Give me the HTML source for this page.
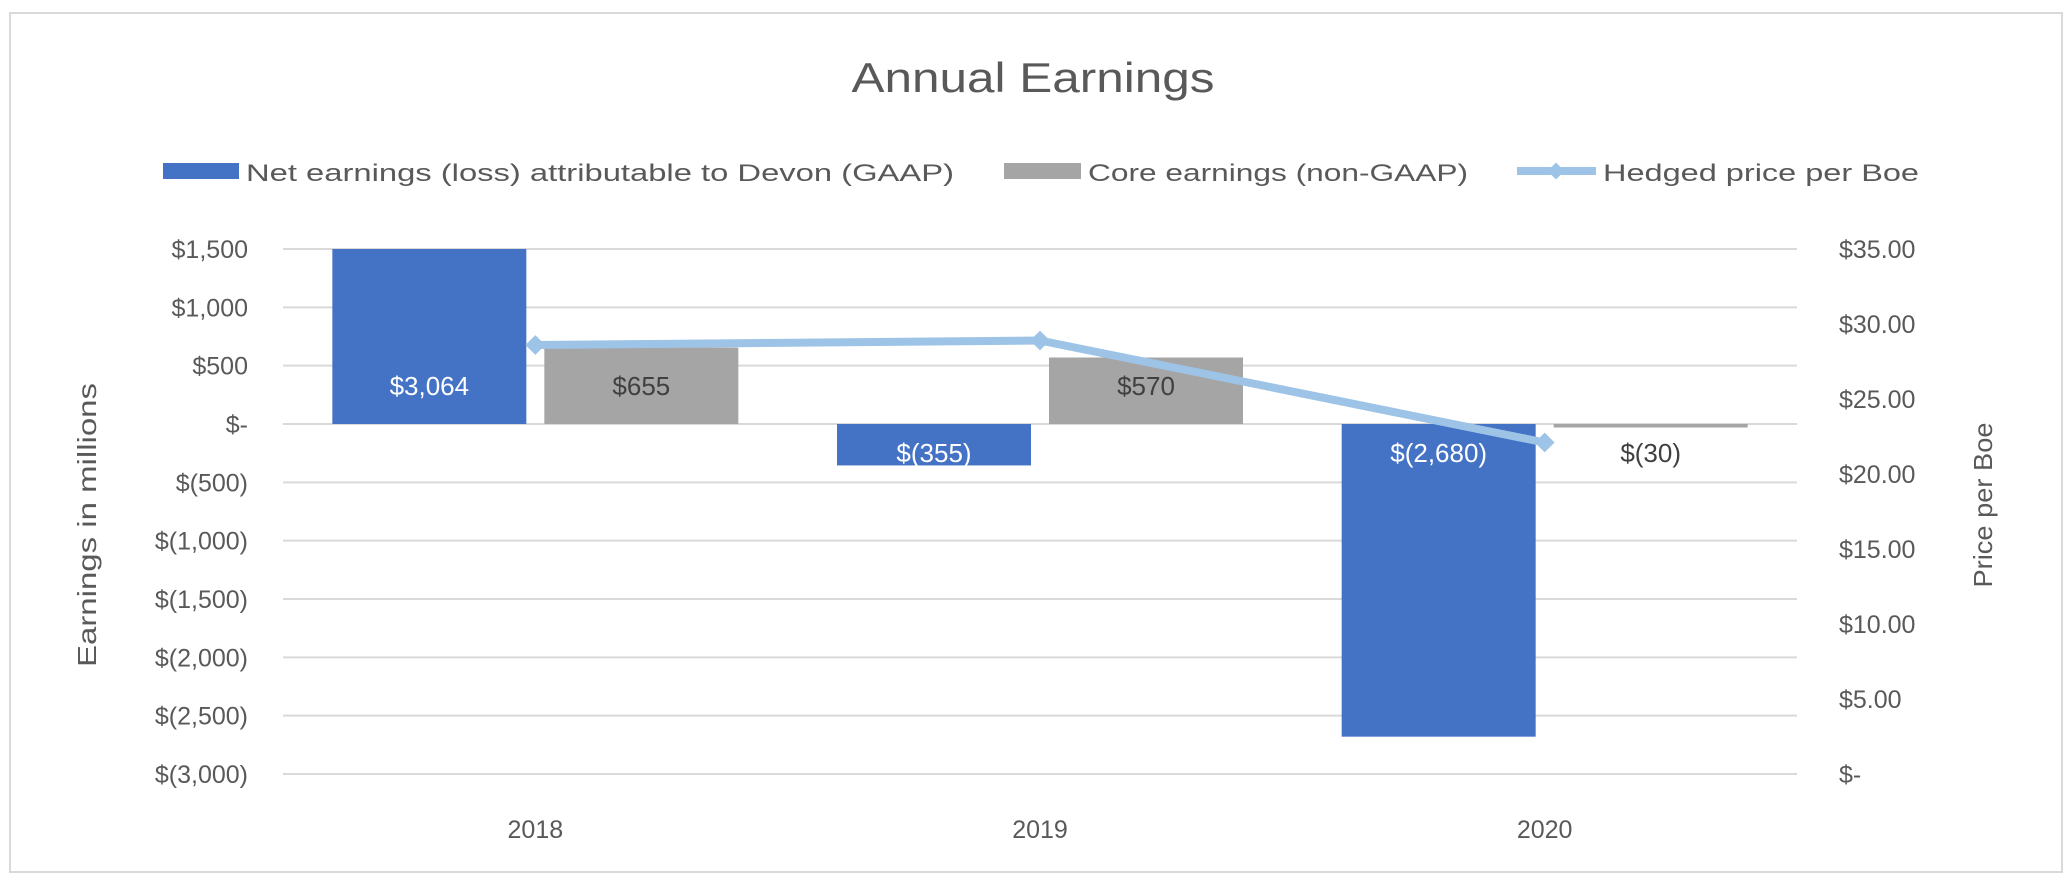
<!DOCTYPE html>
<html><head><meta charset="utf-8"><style>
html,body{margin:0;padding:0;background:#fff;}
svg{display:block;font-family:"Liberation Sans",sans-serif;}
</style></head><body>
<svg id="chart" width="2072" height="888" viewBox="0 0 2072 888">
<rect x="10" y="13" width="2052" height="859" fill="#fff" stroke="#d9d9d9" stroke-width="2"/>
<text x="1033" y="92" text-anchor="middle" font-size="42" fill="#595959" textLength="363" lengthAdjust="spacingAndGlyphs">Annual Earnings</text>
<g>
<g>
<rect x="163" y="163" width="76" height="16" fill="#4472c4"/>
<text x="246" y="181" font-size="24" fill="#595959" textLength="708" lengthAdjust="spacingAndGlyphs">Net earnings (loss) attributable to Devon (GAAP)</text>
</g>
<g>
<rect x="1004" y="163" width="77" height="16" fill="#a5a5a5"/>
<text x="1088" y="181" font-size="24" fill="#595959" textLength="380" lengthAdjust="spacingAndGlyphs">Core earnings (non-GAAP)</text>
</g>
<g>
<line x1="1517" y1="171" x2="1596" y2="171" stroke="#9dc3e6" stroke-width="8"/>
<rect x="1550" y="165" width="12" height="12" fill="#9dc3e6" transform="rotate(45 1556 171)"/>
<text x="1603" y="181" font-size="24" fill="#595959" textLength="316" lengthAdjust="spacingAndGlyphs">Hedged price per Boe</text>
</g>
</g>
<g id="grid"></g>
<g id="bars"></g>
<g id="line"></g>
<g id="labels"></g>
<g id="axes"></g>
<text transform="translate(96,525) rotate(-90)" text-anchor="middle" font-size="26" fill="#595959" textLength="284" lengthAdjust="spacingAndGlyphs">Earnings in millions</text>
<text transform="translate(1992,505) rotate(-90)" text-anchor="middle" font-size="26" fill="#595959" textLength="165" lengthAdjust="spacingAndGlyphs">Price per Boe</text>
</svg>
<script>
const categories = ["2018", "2019", "2020"];
const netEarnings = [3064, -355, -2680];
const coreEarnings = [655, 570, -30];
const hedgedPrice = [28.6, 28.9, 22.1];
const netLabels = ["$3,064", "$(355)", "$(2,680)"];
const coreLabels = ["$655", "$570", "$(30)"];
const leftTicks = [1500, 1000, 500, 0, -500, -1000, -1500, -2000, -2500, -3000];
const leftTickLabels = ["$1,500", "$1,000", "$500", "$-", "$(500)", "$(1,000)", "$(1,500)", "$(2,000)", "$(2,500)", "$(3,000)"];
const rightTicks = [35, 30, 25, 20, 15, 10, 5, 0];
const rightTickLabels = ["$35.00", "$30.00", "$25.00", "$20.00", "$15.00", "$10.00", "$5.00", "$-"];

const NS = "http://www.w3.org/2000/svg";
const X0 = 283, X1 = 1797, YT = 249, YB = 774;
const LMIN = -3000, LMAX = 1500, RMIN = 0, RMAX = 35;
function yL(v){ v = Math.max(LMIN, Math.min(LMAX, v)); return YB - (v - LMIN) / (LMAX - LMIN) * (YB - YT); }
function yR(v){ return YB - (v - RMIN) / (RMAX - RMIN) * (YB - YT); }
const bandW = (X1 - X0) / categories.length;
function xC(i){ return X0 + bandW * (i + 0.5); }
const barW = 194, gap = 18;
function mk(tag, attrs, parent){ const e = document.createElementNS(NS, tag); for (const k in attrs) e.setAttribute(k, attrs[k]); parent.appendChild(e); return e; }

const grid = document.getElementById('grid');
const axes = document.getElementById('axes');
leftTicks.forEach((t, i) => {
  const g = mk('line', {x1: X0, x2: X1, y1: yL(t), y2: yL(t), stroke: '#d9d9d9', 'stroke-width': 2}, grid);
  
  
  const tx = mk('text', {x: 248, y: yL(t) + 9, 'text-anchor': 'end', 'font-size': 25, fill: '#595959'}, axes);
  tx.textContent = leftTickLabels[i];
  
  
});
rightTicks.forEach((t, i) => {
  const tx = mk('text', {x: 1839, y: yR(t) + 9, 'font-size': 25, fill: '#595959'}, axes);
  tx.textContent = rightTickLabels[i];
  
  
});
categories.forEach((c, i) => {
  const tx = mk('text', {x: xC(i), y: 838, 'text-anchor': 'middle', 'font-size': 25, fill: '#595959'}, axes);
  tx.textContent = c;
  
  
});

const bars = document.getElementById('bars');
const labels = document.getElementById('labels');
const y0 = yL(0);
function drawBar(v, x, color, name, label, labelColor){
  const yv = yL(v);
  const r = mk('rect', {x: x, y: Math.min(yv, y0), width: barW, height: Math.max(1, Math.abs(yv - y0)), fill: color}, bars);
  
  
  const ly = v >= 0 ? y0 - 29 : y0 + 38;
  const t = mk('text', {x: x + barW / 2, y: ly, 'text-anchor': 'middle', 'font-size': 26, fill: labelColor}, labels);
  t.textContent = label;
  
  
}
categories.forEach((c, i) => {
  const left = xC(i) - gap / 2 - barW;
  drawBar(netEarnings[i], left, '#4472c4', 'bar-net-' + c, netLabels[i], '#ffffff');
  drawBar(coreEarnings[i], xC(i) + gap / 2, '#a5a5a5', 'bar-core-' + c, coreLabels[i], '#404040');
});

const lineG = document.getElementById('line');
const pts = hedgedPrice.map((v, i) => xC(i) + ',' + yR(v)).join(' ');
const pl = mk('polyline', {points: pts, fill: 'none', stroke: '#9dc3e6', 'stroke-width': 8, 'stroke-linejoin': 'round'}, lineG);


hedgedPrice.forEach((v, i) => {
  const d = mk('rect', {x: xC(i) - 7, y: yR(v) - 7, width: 14, height: 14, fill: '#9dc3e6', transform: 'rotate(45 ' + xC(i) + ' ' + yR(v) + ')'}, lineG);
  
  
});
</script>
</body></html>
